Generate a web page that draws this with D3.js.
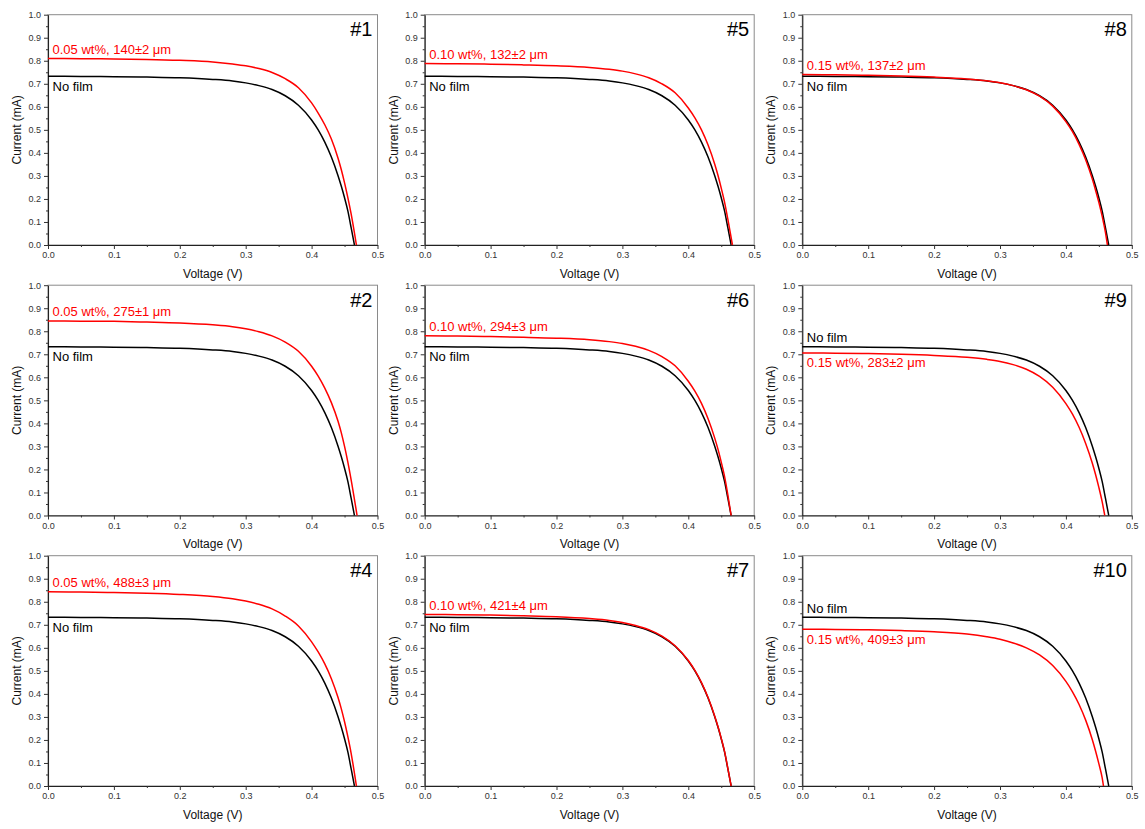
<!DOCTYPE html>
<html>
<head>
<meta charset="utf-8">
<script src="https://cdn.jsdelivr.net/npm/d3@7"></script>
<style>
  body { margin: 0; background: #fff; }
  svg { display: block; }
  text { font-family: "Liberation Sans", Arial, Helvetica, sans-serif; }
</style>
</head>
<body>
<svg id="chart" width="1145" height="829"></svg>
<script>
// Shared voltage sampling (V) for all I-V curves
const voltageGrid = [0, 0.05, 0.10, 0.15, 0.20, 0.25, 0.28, 0.30, 0.32, 0.34, 0.36, 0.38, 0.40, 0.41, 0.42, 0.43, 0.44, 0.445, 0.45, 0.455, 0.46];

// Bare cell (no film) current (mA) and open-circuit voltage (V)
const noFilmCurrent = [0.733, 0.732, 0.731, 0.729, 0.726, 0.719, 0.712, 0.704, 0.692, 0.675, 0.648, 0.607, 0.543, 0.500, 0.447, 0.382, 0.302, 0.256, 0.205, 0.148, 0.075];
const noFilmVoc = 0.465;

// Cells with film, current (mA) on the same voltage grid
const sample1Current  = [0.810, 0.809, 0.808, 0.806, 0.802, 0.795, 0.786, 0.778, 0.766, 0.749, 0.722, 0.683, 0.617, 0.573, 0.522, 0.460, 0.378, 0.328, 0.270, 0.206, 0.135];
const sample2Current  = [0.845, 0.844, 0.843, 0.840, 0.836, 0.828, 0.820, 0.811, 0.798, 0.780, 0.753, 0.713, 0.648, 0.605, 0.553, 0.490, 0.410, 0.360, 0.300, 0.232, 0.155];
const sample4Current  = [0.843, 0.842, 0.840, 0.837, 0.832, 0.823, 0.813, 0.803, 0.789, 0.769, 0.738, 0.695, 0.626, 0.582, 0.530, 0.466, 0.385, 0.336, 0.279, 0.214, 0.142];
const sample5Current  = [0.788, 0.787, 0.785, 0.782, 0.778, 0.771, 0.763, 0.755, 0.743, 0.726, 0.700, 0.661, 0.595, 0.552, 0.500, 0.434, 0.352, 0.303, 0.247, 0.186, 0.112];
const sample6Current  = [0.780, 0.779, 0.777, 0.774, 0.770, 0.763, 0.755, 0.747, 0.735, 0.717, 0.690, 0.650, 0.583, 0.540, 0.487, 0.420, 0.337, 0.288, 0.232, 0.170, 0.090];
const sample7Current  = [0.745, 0.744, 0.742, 0.739, 0.735, 0.727, 0.719, 0.710, 0.697, 0.679, 0.651, 0.609, 0.545, 0.502, 0.449, 0.384, 0.304, 0.258, 0.207, 0.150, 0.077];
const sample8Current  = [0.740, 0.739, 0.737, 0.734, 0.729, 0.721, 0.713, 0.705, 0.692, 0.674, 0.646, 0.603, 0.536, 0.492, 0.437, 0.370, 0.287, 0.238, 0.185, 0.125, 0.055];
const sample9Current  = [0.706, 0.705, 0.703, 0.700, 0.695, 0.687, 0.678, 0.669, 0.655, 0.635, 0.604, 0.557, 0.486, 0.440, 0.383, 0.313, 0.228, 0.178, 0.122, 0.060];
const sample10Current = [0.681, 0.680, 0.678, 0.675, 0.670, 0.660, 0.648, 0.637, 0.621, 0.600, 0.569, 0.523, 0.454, 0.409, 0.354, 0.286, 0.202, 0.152, 0.097, 0.036];

// Panels in reading order (row by row)
const panelIds    = ["#1", "#5", "#8", "#2", "#6", "#9", "#4", "#7", "#10"];
const filmCurrent = [sample1Current, sample5Current, sample8Current, sample2Current, sample6Current, sample9Current, sample4Current, sample7Current, sample10Current];
const filmVoc     = [0.468, 0.467, 0.463, 0.469, 0.465, 0.459, 0.468, 0.465, 0.457];
const filmLabels  = ["0.05 wt%, 140±2 μm", "0.10 wt%, 132±2 μm", "0.15 wt%, 137±2 μm",
                     "0.05 wt%, 275±1 μm", "0.10 wt%, 294±3 μm", "0.15 wt%, 283±2 μm",
                     "0.05 wt%, 488±3 μm", "0.10 wt%, 421±4 μm", "0.15 wt%, 409±3 μm"];
// Which side of its curve each label sits on
const filmLabelSide   = ["above", "above", "above", "above", "above", "below", "above", "above", "below"];
const noFilmLabelSide = ["below", "below", "below", "below", "below", "above", "below", "below", "above"];

// Axis ticks
const majorTicksV = [0, 0.1, 0.2, 0.3, 0.4, 0.5];
const minorTicksV = [0.05, 0.15, 0.25, 0.35, 0.45];
const majorTicksI = [0, 0.1, 0.2, 0.3, 0.4, 0.5, 0.6, 0.7, 0.8, 0.9, 1.0];
const minorTicksI = [0.05, 0.15, 0.25, 0.35, 0.45, 0.55, 0.65, 0.75, 0.85, 0.95];

// Layout
const colX = [48, 424.7, 802.3];
const rowY = [14.7, 285.2, 555.7];
const plotW = 329.5, plotH = 230.3;

const svg = d3.select("#chart");

function curvePoints(currents, voc) {
  const pts = [];
  currents.forEach((c, i) => { if (voltageGrid[i] < voc) pts.push([voltageGrid[i], c]); });
  pts.push([voc, 0]);
  return pts;
}

panelIds.forEach((id, k) => {
  const col = k % 3, row = Math.floor(k / 3);
  const g = svg.append("g").attr("transform", `translate(${colX[col]},${rowY[row]})`);

  const x = d3.scaleLinear().domain([0, 0.5]).range([0, plotW]);
  const y = d3.scaleLinear().domain([0, 1.0]).range([plotH, 0]);

  // frame
  g.append("rect")
    .attr("x", 0).attr("y", 0).attr("width", plotW).attr("height", plotH)
    .attr("fill", "none").attr("stroke", "#8a8a8a").attr("stroke-width", 1);

  // axes
  g.append("g").attr("transform", `translate(0,${plotH})`)
    .call(d3.axisBottom(x).tickValues(majorTicksV).tickFormat(d3.format(".1f")).tickSize(4).tickSizeOuter(0).tickPadding(3));
  g.append("g").attr("transform", `translate(0,${plotH})`)
    .call(d3.axisBottom(x).tickValues(minorTicksV).tickFormat("").tickSize(2).tickSizeOuter(0))
    .select(".domain").remove();
  g.append("g")
    .call(d3.axisLeft(y).tickValues(majorTicksI).tickFormat(d3.format(".1f")).tickSize(4).tickSizeOuter(0).tickPadding(3));
  g.append("g")
    .call(d3.axisLeft(y).tickValues(minorTicksI).tickFormat("").tickSize(2).tickSizeOuter(0))
    .select(".domain").remove();

  g.selectAll(".tick line").attr("stroke", "#333");
  g.selectAll(".domain").attr("stroke", "#222").attr("stroke-width", 1.1);
  g.selectAll(".tick text").attr("font-size", 9).attr("fill", "#333")
    .attr("font-family", "'Liberation Sans', Arial, sans-serif");

  // axis titles
  g.append("text")
    .attr("x", plotW / 2).attr("y", plotH + 33)
    .attr("text-anchor", "middle").attr("font-size", 12).attr("fill", "#111")
    .text("Voltage (V)");
  g.append("text")
    .attr("transform", `translate(-27,${plotH / 2}) rotate(-90)`)
    .attr("text-anchor", "middle").attr("font-size", 12).attr("fill", "#111")
    .text("Current (mA)");

  // curves
  const line = d3.line()
    .x(d => x(d[0])).y(d => y(d[1]))
    .curve(d3.curveMonotoneX);

  g.append("path")
    .datum(curvePoints(noFilmCurrent, noFilmVoc))
    .attr("d", line).attr("fill", "none")
    .attr("stroke", "#000").attr("stroke-width", 1.5);

  g.append("path")
    .datum(curvePoints(filmCurrent[k], filmVoc[k]))
    .attr("d", line).attr("fill", "none")
    .attr("stroke", "#ff0000").attr("stroke-width", 1.5);

  // labels
  const offset = side => side === "above" ? -4.5 : 14.5;
  g.append("text")
    .attr("x", 4.5).attr("y", y(filmCurrent[k][0]) + offset(filmLabelSide[k]))
    .attr("font-size", 13).attr("fill", "#ff0000")
    .text(filmLabels[k]);
  g.append("text")
    .attr("x", 4.5).attr("y", y(noFilmCurrent[0]) + offset(noFilmLabelSide[k]))
    .attr("font-size", 13).attr("fill", "#000")
    .text("No film");

  // panel id
  g.append("text")
    .attr("x", plotW - 5).attr("y", 21.5)
    .attr("text-anchor", "end").attr("font-size", 20).attr("fill", "#000")
    .text(id);
});
</script>
</body>
</html>
